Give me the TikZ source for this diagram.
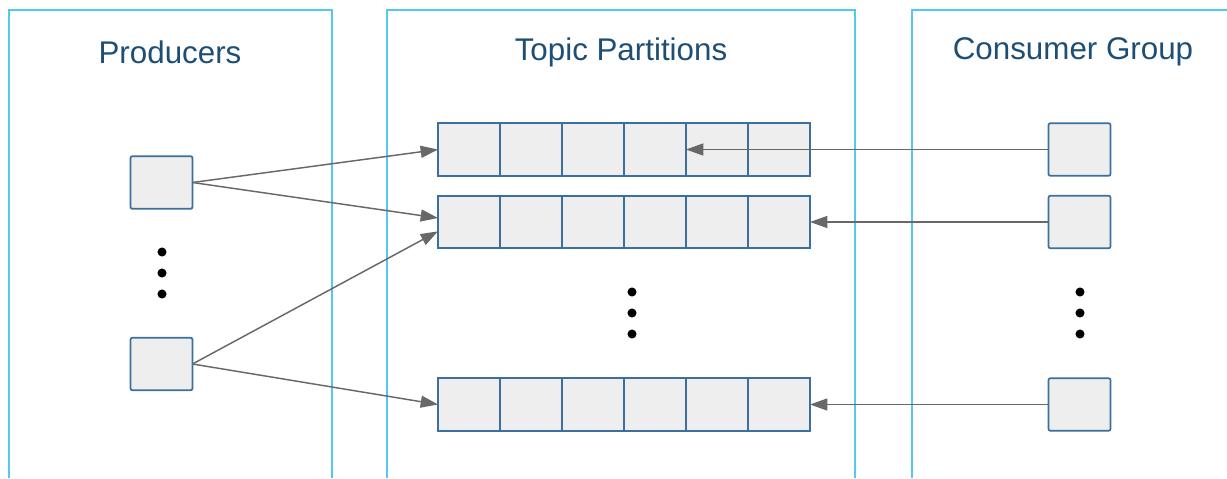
\documentclass[tikz,border=0pt]{standalone}
\usepackage{fontspec}
\setmainfont{Liberation Sans}
\usetikzlibrary{arrows.meta}

\definecolor{frame-color}{HTML}{55C8F0}
\definecolor{title-color}{HTML}{1D4E75}
\definecolor{box-border}{HTML}{3A6F9E}
\definecolor{box-fill}{HTML}{EEEEEE}
\definecolor{arrow-color}{HTML}{686868}

\begin{document}
\begin{tikzpicture}[x=0.75pt,y=-0.75pt,
frame/.style={draw=frame-color, line width=1.3pt},
title/.style={text=title-color, font=\fontsize{23.5}{28}\selectfont},
cell/.style={rectangle, draw=box-border, fill=box-fill, line width=1.3pt,
  inner sep=0pt, outer sep=0pt, minimum width=46.5pt, minimum height=39.5pt},
msg/.style={draw=arrow-color, line width=1.1pt, -{Triangle[length=13pt,width=9pt]}}]
\tikzstyle{box}=[cell, rounded corners=1.5pt]

\useasboundingbox (0,0) rectangle (1227,478);

% the three panels, open at the bottom
\draw[frame] (9,478) |- (332,10) -- (332,478);
\draw[frame] (387,478) |- (855,10) -- (855,478);
\draw[frame] (912,478) |- (1228,10);

\node[title] (ProdTitle) at (170,52) {Producers};
\node[title] (TopicTitle) at (621,52) {Topic Partitions};
\node[title] (GroupTitle) at (1073,52) {Consumer Group};

% producers
\node[box] (p1) at (161.5,182.5) {};
\node[box] (p2) at (161.5,364) {};
\foreach \y in {252,273,294}
  \fill (162,\y) circle (3.4pt);

% partitions
\foreach \r/\y in {1/149.5, 2/222, 4/404.5}
  \foreach \c in {1,...,6}
    \node[cell] (r\r c\c) at ({469+62*(\c-1)},\y) {};
\foreach \y in {292,313,334}
  \fill (632,\y) circle (3.4pt);

% consumers
\node[box] (c1) at (1079.5,149.5) {};
\node[box] (c2) at (1079.5,222) {};
\node[box] (c3) at (1079.5,404.5) {};
\foreach \y in {292,313,334}
  \fill (1080,\y) circle (3.4pt);

% writes
\draw[msg] (p1.east) -- (r1c1.west);
\draw[msg] (p1.east) -- ([yshift=3pt]r2c1.west);
\draw[msg] (p2.east) -- ([yshift=-7pt]r2c1.west);
\draw[msg] (p2.east) -- (r4c1.west);

% reads
\draw[msg] (c1.west) -- (r1c5.west);
\draw[msg] (c2.west) -- (r2c6.east);
\draw[msg] (c3.west) -- (r4c6.east);

\end{tikzpicture}
\end{document}
